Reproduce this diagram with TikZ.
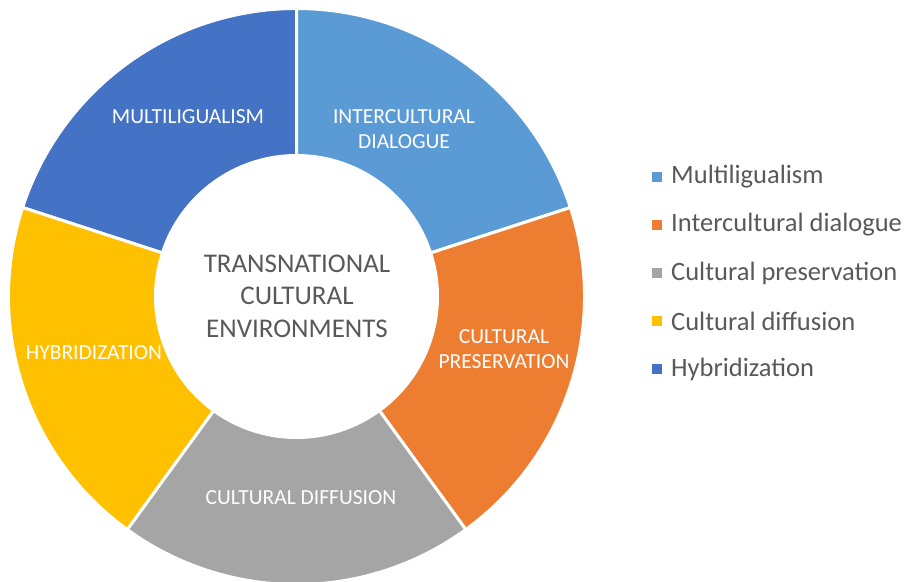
\documentclass[tikz,border=0pt]{standalone}
\usepackage{fontspec}
\setmainfont{Carlito}
\definecolor{cdblue}{HTML}{4472C4}
\definecolor{clblue}{HTML}{5B9BD5}
\definecolor{corange}{HTML}{ED7D31}
\definecolor{cgray}{HTML}{A5A5A5}
\definecolor{cgold}{HTML}{FFC000}
\definecolor{ctext}{HTML}{595959}
\tikzset{
  seglabel/.style={text=white, font=\fontsize{21.5}{25}\selectfont, align=center, inner sep=0pt},
  centerlabel/.style={text=ctext, font=\fontsize{27}{32.5}\selectfont, align=center, inner sep=0pt},
  legtext/.style={text=ctext, font=\fontsize{26.5}{30}\selectfont, anchor=west, inner sep=0pt},
  legbox/.style={minimum size=10pt, inner sep=0pt, outer sep=0pt},
  segment/.style={draw=white, line width=3pt, line join=miter}
}
\newcommand{\ringseg}[3]{%
  \draw[segment, fill=#3] ([shift={(#1:288)}]C) arc[start angle=#1, end angle=#2, radius=288]
    -- ([shift={(#2:141)}]C) arc[start angle=#2, end angle=#1, radius=141] -- cycle;}
\begin{document}
\begin{tikzpicture}[x=1pt, y=1pt]
\useasboundingbox (0,0) rectangle (904,-581);
\coordinate (C) at (296.5,-296.5);
\ringseg{90}{162}{cdblue}
\ringseg{18}{90}{clblue}
\ringseg{-54}{18}{corange}
\ringseg{-126}{-54}{cgray}
\ringseg{162}{234}{cgold}
\node[seglabel] (lmul) at (188,-117) {MULTILIGUALISM};
\node[seglabel] (lint) at (404,-129.5) {INTERCULTURAL\\DIALOGUE};
\node[seglabel] (lpre) at (504,-349.5) {CULTURAL\\PRESERVATION};
\node[seglabel] (ldif) at (301,-498) {CULTURAL DIFFUSION};
\node[seglabel] (lhyb) at (94,-353) {HYBRIDIZATION};
\node[centerlabel] (ctr) at (297,-296) {TRANSNATIONAL\\CULTURAL\\ENVIRONMENTS};
\foreach \i/\col/\txt in {0/clblue/Multiligualism, 1/corange/Intercultural dialogue, 2/cgray/Cultural preservation, 3/cgold/Cultural diffusion, 4/cdblue/Hybridization}{
  \node[legbox, fill=\col] (lb\i) at (657,-177-48*\i) {};
  \node[legtext] (lt\i) at (671,-177-48*\i) {\txt};
}
\end{tikzpicture}
\end{document}
